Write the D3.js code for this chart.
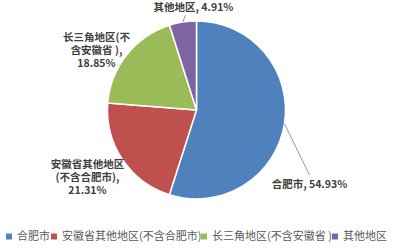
<!DOCTYPE html>
<html>
<head>
<meta charset="utf-8">
<script src="https://cdn.jsdelivr.net/npm/d3@7"></script>
<style>
  html, body { margin: 0; padding: 0; background: #fff; }
  svg { display: block; }
  text { font-family: "Noto Sans CJK SC", "Noto Sans", sans-serif; }
</style>
</head>
<body>
<svg id="chart" width="394" height="251"></svg>
<script>
// Share of each source region (%)
const categories = ["合肥市", "安徽省其他地区(不含合肥市)", "长三角地区(不含安徽省 )", "其他地区"];
const values = [54.93, 21.31, 18.85, 4.91];
const colors = ["#4F81BD", "#C0504D", "#9BBB59", "#8064A2"];
// Wrapped data-label lines for each slice
const labelLines = [
  ["合肥市, 54.93%"],
  ["安徽省其他地区", "(不含合肥市),", "21.31%"],
  ["长三角地区(不", "含安徽省 ),", "18.85%"],
  ["其他地区, 4.91%"]
];

const svg = d3.select("#chart");
const cx = 196.5, cy = 110, r = 89;

const data = categories.map((c, i) => ({ name: c, value: values[i], color: colors[i], lines: labelLines[i] }));

const pie = d3.pie().value(d => d.value).sort(null);
const arcs = pie(data);
const arc = d3.arc().innerRadius(0).outerRadius(r);

const g = svg.append("g").attr("transform", `translate(${cx},${cy})`);
g.selectAll("path")
  .data(arcs)
  .join("path")
  .attr("d", arc)
  .attr("fill", d => d.data.color)
  .attr("stroke", "#fff")
  .attr("stroke-width", 1.5)
  .attr("stroke-linejoin", "round");

// Label anchors (relative to pie centre) and leader-line ends
const labelPos = [
  { x: 113, y: 77.5, anchor: "middle", lead: [113, 65] },
  { x: -109, y: 57.5, anchor: "middle" },
  { x: -100, y: -69.5, anchor: "middle" },
  { x: -3, y: -99.5, anchor: "middle", lead: [-11, -95] }
];
const lineH = 13;

arcs.forEach((a, i) => {
  const p = labelPos[i];
  if (p.lead) {
    const mid = (a.startAngle + a.endAngle) / 2;
    const ex = Math.sin(mid) * r, ey = -Math.cos(mid) * r;
    g.append("line")
      .attr("x1", ex).attr("y1", ey)
      .attr("x2", p.lead[0]).attr("y2", p.lead[1])
      .attr("stroke", "#9a9a9a").attr("stroke-width", 1);
  }
  a.data.lines.forEach((ln, k) => {
    g.append("text")
      .attr("x", p.x)
      .attr("y", p.y + k * lineH)
      .attr("text-anchor", p.anchor)
      .attr("font-size", 10.5)
      .attr("font-weight", "bold")
      .attr("fill", "#404040")
      .text(ln);
  });
});

// Legend along the bottom
const legendY = 237;
const legendX = [6, 51, 201, 332];
const legend = svg.append("g");
data.forEach((d, i) => {
  legend.append("rect")
    .attr("x", legendX[i]).attr("y", legendY - 3.5)
    .attr("width", 6).attr("height", 6)
    .attr("fill", d.color);
  legend.append("text")
    .attr("x", legendX[i] + 11).attr("y", legendY)
    .attr("dominant-baseline", "middle")
    .attr("font-size", 11)
    .attr("fill", "#595959")
    .text(d.name);
});
</script>
</body>
</html>
